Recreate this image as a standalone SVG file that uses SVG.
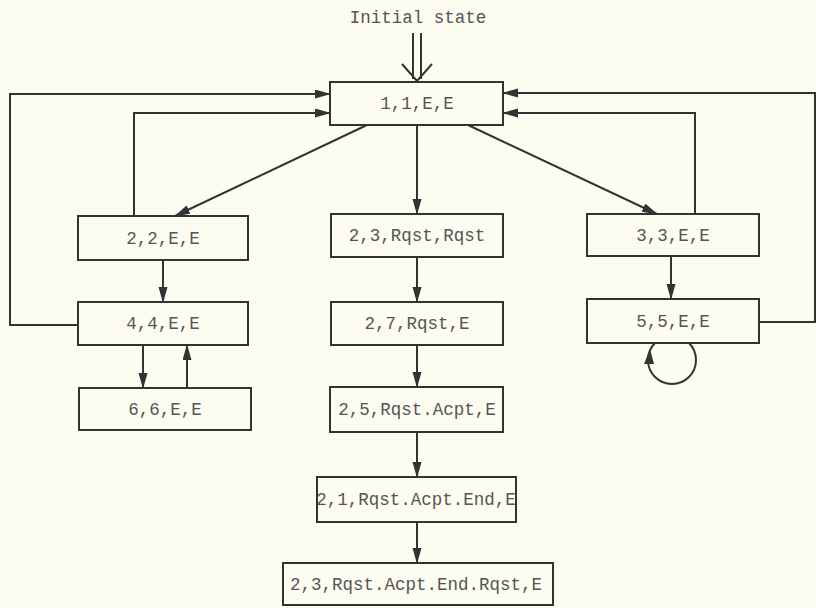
<svg xmlns="http://www.w3.org/2000/svg" width="816" height="608" viewBox="0 0 816 608">
<style>
.box{fill:#fdfcf1;stroke:#333;stroke-width:2}
.t{font-family:"Liberation Mono","DejaVu Sans Mono",monospace;font-size:17.5px;fill:#555;text-anchor:middle}
.c{fill:none;stroke:#333;stroke-width:2}
.a{marker-end:url(#ah)}
</style>
<defs>
<marker id="ah" markerUnits="userSpaceOnUse" markerWidth="16" markerHeight="10" refX="15" refY="4.5" orient="auto">
<path d="M0,0 L16,4.5 L0,9 z" fill="#333"/>
</marker>
</defs>
<rect width="816" height="608" fill="#fdfcf1"/>
<text class="t" x="418" y="23">Initial state</text>
<g id="connectors">
<path class="c" d="M413,33 V79 M421,33 V79 M402,64 L417,81 L432,64"/>
<path class="c a" d="M78,325 H10 V94 H330"/>
<path class="c a" d="M134,216 V113 H330"/>
<path class="c a" d="M759,322 H815 V93 H503"/>
<path class="c a" d="M695,214 V113 H503"/>
<path class="c a" d="M367,125 L175,216"/>
<path class="c a" d="M417,125 V214"/>
<path class="c a" d="M468,125 L657,214"/>
<path class="c a" d="M163,260 V302"/>
<path class="c a" d="M143,345 V388"/>
<path class="c a" d="M187,388 V345"/>
<path class="c a" d="M417,257 V302"/>
<path class="c a" d="M417,345 V387"/>
<path class="c a" d="M417,432 V477"/>
<path class="c a" d="M417,522 V563"/>
<path class="c a" d="M671,256 V299"/>
<path class="c" d="M689,343 A24,24 0 1 1 655,343"/>
<path d="M650,349 L644,364 L654,364 z" fill="#333"/>
</g>
<g id="n1"><rect class="box" x="330" y="82" width="173" height="43"/><text class="t" x="417" y="109">1,1,E,E</text></g>
<g id="n22"><rect class="box" x="78" y="216" width="170" height="44"/><text class="t" x="163" y="244">2,2,E,E</text></g>
<g id="n44"><rect class="box" x="78" y="302" width="170" height="43"/><text class="t" x="163" y="329">4,4,E,E</text></g>
<g id="n66"><rect class="box" x="79" y="388" width="172" height="42"/><text class="t" x="165" y="415">6,6,E,E</text></g>
<g id="n23"><rect class="box" x="331" y="214" width="172" height="43"/><text class="t" x="417" y="241">2,3,Rqst,Rqst</text></g>
<g id="n27"><rect class="box" x="331" y="302" width="172" height="43"/><text class="t" x="417" y="329">2,7,Rqst,E</text></g>
<g id="n25"><rect class="box" x="330" y="387" width="173" height="45"/><text class="t" x="417" y="415">2,5,Rqst.Acpt,E</text></g>
<g id="n21"><rect class="box" x="317" y="477" width="199" height="45"/><text class="t" x="416" y="505">2,1,Rqst.Acpt.End,E</text></g>
<g id="n23b"><rect class="box" x="283" y="563" width="270" height="42"/><text class="t" x="416" y="590">2,3,Rqst.Acpt.End.Rqst,E</text></g>
<g id="n33"><rect class="box" x="587" y="214" width="172" height="42"/><text class="t" x="673" y="241">3,3,E,E</text></g>
<g id="n55"><rect class="box" x="587" y="299" width="172" height="44"/><text class="t" x="673" y="327">5,5,E,E</text></g>
</svg>
